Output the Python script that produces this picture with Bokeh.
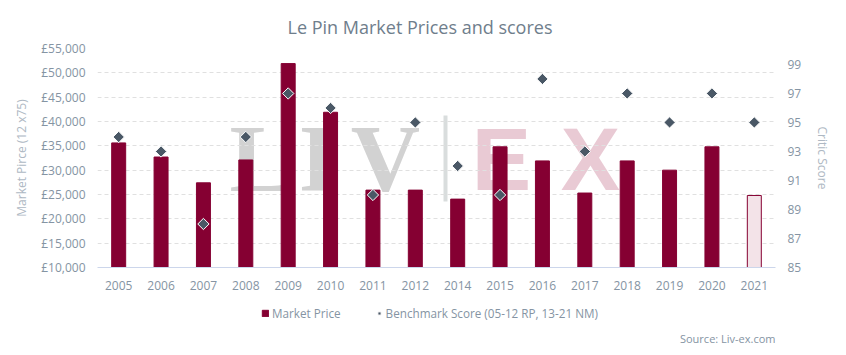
import math
from bokeh.plotting import figure
from bokeh.layouts import column
from bokeh.models import (Range1d, LinearAxis, FixedTicker, Legend,
                          LegendItem, ColumnDataSource)
from bokeh.embed import file_html
from bokeh.resources import INLINE
from bokeh.core.properties import value

# ---- data ----
years = ["2005", "2006", "2007", "2008", "2009", "2010", "2011", "2012",
         "2014", "2015", "2016", "2017", "2018", "2019", "2020", "2021"]
prices = [35600, 32700, 27400, 32100, 51900, 41900, 25900, 25900,
          24050, 34800, 31900, 25300, 31900, 30000, 34800, 24800]
scores = [94, 93, 88, 94, 97, 96, 90, 95, 92, 90, 98, 93, 97, 95, 97, 95]
provisional_years = ["2021"]
price_ticks = [10000, 15000, 20000, 25000, 30000, 35000, 40000, 45000, 50000, 55000]
price_tick_labels = ["£10,000", "£15,000", "£20,000", "£25,000", "£30,000",
                     "£35,000", "£40,000", "£45,000", "£50,000", "£55,000"]
score_ticks = [85, 87, 89, 91, 93, 95, 97, 99]

# ---- styles ----
FONT = "Open Sans"
BAR = "#850032"
PALE = "#f3e3e8"
DIAMOND = "#4a5866"
TICK_C = "#8594a3"
AXLAB_C = "#aeb8c3"
TITLE_C = "#6f7e8c"
W, H = 846, 355
H1 = 300                             # height of the chart figure
FL, FR, FT, FB = 97, 775, 48, 267   # plot frame edges in page pixels

pos = list(range(len(years)))
src = ColumnDataSource(dict(
    pos=pos, year=years, price=prices, score=scores,
    fill=[PALE if y in provisional_years else BAR for y in years],
))

p = figure(x_range=Range1d(-0.5, len(years) - 0.5), y_range=Range1d(price_ticks[0], price_ticks[-1]),
           width=W, height=H1, output_backend="svg", toolbar_location=None,
           min_border_left=FL, min_border_right=W - FR, min_border_top=FT, min_border_bottom=H1 - FB)
p.outline_line_color = None
p.extra_y_ranges = {"score": Range1d(score_ticks[0], 100.1),
                    "wy": Range1d(0, FB - FT)}
p.extra_x_ranges = {"wx": Range1d(0, FR - FL)}

# title
p.title.text = "Le Pin Market Prices and scores"
p.title.align = "left"
p.title.offset = 190
p.title.text_font = FONT
p.title.text_font_size = "18px"
p.title.text_font_style = "normal"
p.title.text_color = TITLE_C
p.title.standoff = 20

# grid
p.xgrid.grid_line_color = None
p.ygrid.ticker = FixedTicker(ticks=price_ticks)
p.ygrid.grid_line_color = "#e0e0e0"
p.ygrid.grid_line_dash = "4 3"

# left axis
ya = p.yaxis[0]
ya.ticker = FixedTicker(ticks=price_ticks)
ya.major_label_overrides = {t: l for t, l in zip(price_ticks, price_tick_labels)}
ya.axis_label = "Market Pirce (12 x75)"

# right axis
ra = LinearAxis(y_range_name="score", ticker=FixedTicker(ticks=score_ticks), axis_label="Critic Score")
p.add_layout(ra, "right")

for ax in [ya, ra]:
    ax.axis_line_color = None
    ax.major_tick_line_color = None
    ax.minor_tick_line_color = None
    ax.major_label_text_font = FONT
    ax.major_label_text_font_size = "12px"
    ax.major_label_text_color = TICK_C
    ax.axis_label_text_font = FONT
    ax.axis_label_text_font_size = "12px"
    ax.axis_label_text_font_style = "normal"
    ax.axis_label_text_color = AXLAB_C
ya.major_label_standoff = 6
ya.axis_label_standoff = 8
ra.major_label_standoff = 6
ra.axis_label_standoff = 10

xa = p.xaxis[0]
xa.ticker = FixedTicker(ticks=pos)
xa.major_label_overrides = {i: y for i, y in zip(pos, years)}
xa.axis_line_color = "#ccd6eb"
xa.major_tick_line_color = None
xa.minor_tick_line_color = None
xa.major_label_text_font = FONT
xa.major_label_text_font_size = "12px"
xa.major_label_text_color = TICK_C
xa.major_label_standoff = 7

# watermark "LIV|EX" (decoration, in frame pixel units, drawn below the grid)
for ch, x in [("L", 164), ("I", 220), ("V", 288)]:
    p.text(x=[x], y=[109], text=[ch], x_range_name="wx", y_range_name="wy",
           text_font=value("Liberation Serif"), text_font_style="bold", text_font_size="96px",
           text_color="#d2d2d2", text_baseline="alphabetic", text_align="center", level="image")
p.quad(left=[346], right=[350], bottom=[66], top=[152], x_range_name="wx", y_range_name="wy",
       fill_color="#d9dddd", line_color=None, level="image")
for ch, x in [("E", 404), ("X", 493)]:
    p.text(x=[x], y=[109], text=[ch], x_range_name="wx", y_range_name="wy",
           text_font=value("Liberation Sans"), text_font_style="bold", text_font_size="89px",
           text_color="#e9cad4", text_baseline="alphabetic", text_align="center", level="image")

# data glyphs
bars = p.vbar(x="pos", top="price", bottom=price_ticks[0], width=0.33, source=src,
              fill_color="fill", line_color=BAR, line_width=1)
pts = p.scatter(x="pos", y="score", y_range_name="score", source=src, marker="square",
                angle=math.pi / 4, size=8, fill_color=DIAMOND, line_color="white", line_width=1)

# ---- legend + source strip below the chart (x in page pixels) ----
H2 = H - H1
p2 = figure(width=W, height=H2, x_range=Range1d(FL, FR), y_range=Range1d(0, H2),
            output_backend="svg", toolbar_location=None, title=None,
            x_axis_location=None, y_axis_location=None,
            min_border_left=FL, min_border_right=W - FR, min_border_top=0, min_border_bottom=0)
p2.grid.visible = False
p2.outline_line_color = None
# off-screen stand-in renderers that only feed the legend swatches
lg_bar = p2.vbar(x=[0], top=[-10], bottom=[-20], width=1, fill_color=BAR, line_color=BAR)
lg_pt = p2.scatter(x=[0], y=[-20], marker="square", angle=math.pi / 4, size=8,
                   fill_color=DIAMOND, line_color="white", line_width=1)
legend = Legend(items=[LegendItem(label="Market Price", renderers=[lg_bar]),
                       LegendItem(label="Benchmark Score (05-12 RP, 13-21 NM)", renderers=[lg_pt])],
                orientation="horizontal", location=(164, 34),
                label_text_font=FONT, label_text_font_size="11.7px", label_text_color=TICK_C,
                glyph_width=8, glyph_height=8, spacing=34, label_standoff=3,
                padding=0, margin=0, border_line_color=None, background_fill_alpha=0)
p2.add_layout(legend, "center")
p2.text(x=[FR], y=[17], text=["Source: Liv-ex.com"], text_align="right", text_baseline="middle",
        text_font=value(FONT), text_font_size="11px", text_color=TICK_C)

layout = column(p, p2, spacing=0)
open("out.html", "w").write(file_html(layout, INLINE))
